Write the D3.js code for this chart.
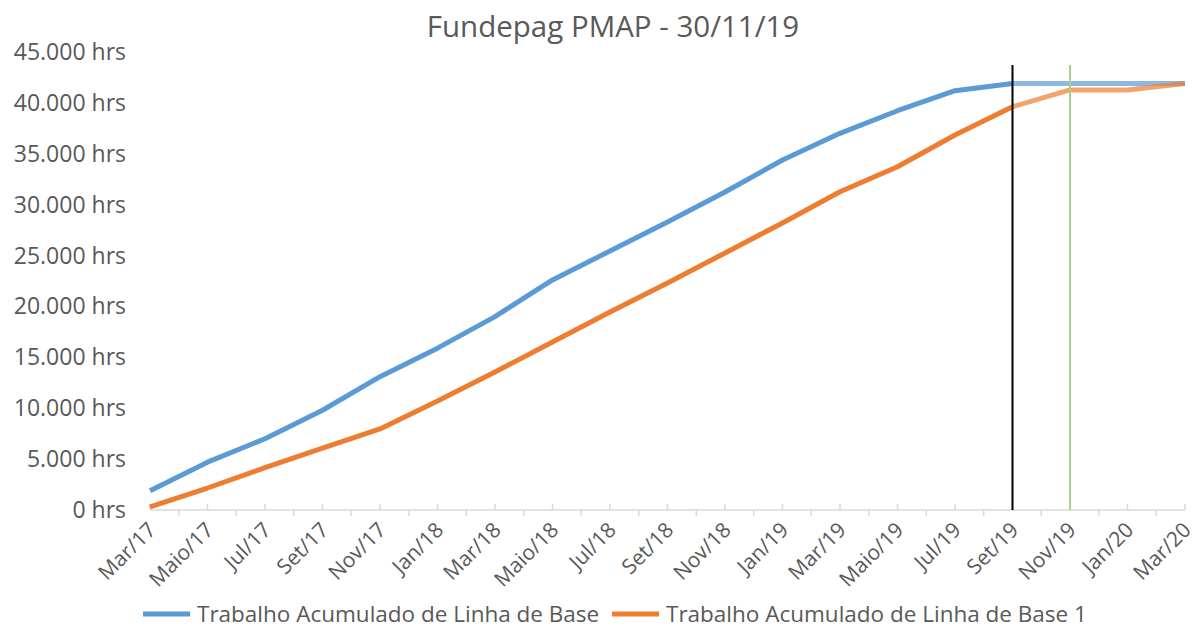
<!DOCTYPE html>
<html lang="pt">
<head>
<meta charset="UTF-8">
<title>Fundepag PMAP</title>
<script src="https://d3js.org/d3.v7.min.js"></script>
<style>
  body { margin: 0; background: #fff; }
  text { font-family: "Open Sans", "Noto Sans", sans-serif; fill: #595959; }
</style>
</head>
<body>
<div id="chart"></div>
<script>
// bimonthly points, axis has a tick every month
var categories = ["Mar/17", "Maio/17", "Jul/17", "Set/17", "Nov/17", "Jan/18", "Mar/18", "Maio/18", "Jul/18", "Set/18",
                  "Nov/18", "Jan/19", "Mar/19", "Maio/19", "Jul/19", "Set/19", "Nov/19", "Jan/20", "Mar/20"];
var baseline = [1900, 4700, 7000, 9800, 13100, 15900, 19000, 22600, 25450, 28300,
                31240, 34390, 37010, 39230, 41200, 41900, 41900, 41900, 41900];
var baseline1 = [300, 2160, 4160, 6090, 7960, 10700, 13560, 16500, 19450, 22300,
                 25250, 28200, 31270, 33730, 36840, 39620, 41270, 41270, 41900];
var yTicks = [0, 5000, 10000, 15000, 20000, 25000, 30000, 35000, 40000, 45000];
var seriesNames = ["Trabalho Acumulado de Linha de Base", "Trabalho Acumulado de Linha de Base 1"];
var markers = [{ at: "Set/19", color: "#000000" }, { at: "Nov/19", color: "#a9d18e" }];
var statusDate = "Set/19"; // lines are lighter after this point

var w = 1196, h = 628;
var pLeft = 150, pRight = 1185, pTop = 52, pBottom = 510;

var svg = d3.select("#chart").append("svg").attr("width", w).attr("height", h);

var nMonths = (categories.length - 1) * 2;
var x = d3.scaleLinear().domain([0, nMonths]).range([pLeft, pRight]);
var y = d3.scaleLinear().domain([0, 45000]).range([pBottom, pTop]);
var monthOf = function(c) { return categories.indexOf(c) * 2; };

var loc = d3.formatLocale({ decimal: ",", thousands: ".", grouping: [3], currency: ["R$", ""] });
var fmt = loc.format(",d");

// title
svg.append("text").attr("x", 613).attr("y", 37).attr("text-anchor", "middle")
  .style("font-size", "29.5px").text("Fundepag PMAP - 30/11/19");

// y labels
svg.append("g").selectAll("text").data(yTicks).enter().append("text")
  .attr("x", 126).attr("y", function(d) { return y(d); }).attr("dy", "0.35em")
  .attr("text-anchor", "end").style("font-size", "23px")
  .text(function(d) { return fmt(d) + " hrs"; });

// x axis
var ax = svg.append("g");
ax.append("line").attr("x1", pLeft).attr("x2", pRight).attr("y1", pBottom).attr("y2", pBottom)
  .attr("stroke", "#d9d9d9").attr("stroke-width", 1.5);
ax.selectAll("line.tick").data(d3.range(nMonths + 1)).enter().append("line")
  .attr("class", "tick")
  .attr("x1", function(d) { return x(d); }).attr("x2", function(d) { return x(d); })
  .attr("y1", function(d) { return d % 2 == 0 ? pBottom - 6 : pBottom; })
  .attr("y2", function(d) { return d % 2 == 0 ? pBottom : pBottom + 6; })
  .attr("stroke", "#d9d9d9").attr("stroke-width", 1.5);
ax.selectAll("text").data(categories).enter().append("text")
  .attr("transform", function(d, i) { return "translate(" + (x(i * 2) + 2) + "," + (pBottom + 16) + ") rotate(-45)"; })
  .attr("text-anchor", "end").attr("dy", "0.35em").style("font-size", "21px")
  .text(function(d) { return d; });

// lines
var line = d3.line().x(function(d) { return x(d.i * 2); }).y(function(d) { return y(d.v); });
var cut = categories.indexOf(statusDate);
[[baseline, "#5b9bd5"], [baseline1, "#ed7d31"]].forEach(function(s) {
  var pts = s[0].map(function(v, i) { return { i: i, v: v }; });
  svg.append("path").datum(pts.slice(cut)).attr("d", line)
    .attr("fill", "none").attr("stroke", s[1]).attr("stroke-opacity", 0.7)
    .attr("stroke-width", 5).attr("stroke-linejoin", "round");
  svg.append("path").datum(pts.slice(0, cut + 1)).attr("d", line)
    .attr("fill", "none").attr("stroke", s[1])
    .attr("stroke-width", 5).attr("stroke-linejoin", "round");
});

// status lines
svg.selectAll("line.marker").data(markers).enter().append("line")
  .attr("class", "marker")
  .attr("x1", function(d) { return x(monthOf(d.at)); }).attr("x2", function(d) { return x(monthOf(d.at)); })
  .attr("y1", 65).attr("y2", pBottom)
  .attr("stroke", function(d) { return d.color; }).attr("stroke-width", 2);

// legend
var lg = svg.append("g");
[[143, "#5b9bd5"], [612, "#ed7d31"]].forEach(function(p, i) {
  lg.append("line").attr("x1", p[0]).attr("x2", p[0] + 47).attr("y1", 614).attr("y2", 614)
    .attr("stroke", p[1]).attr("stroke-width", 5);
  lg.append("text").attr("x", p[0] + 54).attr("y", 614).attr("dy", "0.35em")
    .style("font-size", "22.5px").text(seriesNames[i]);
});
</script>
</body>
</html>
